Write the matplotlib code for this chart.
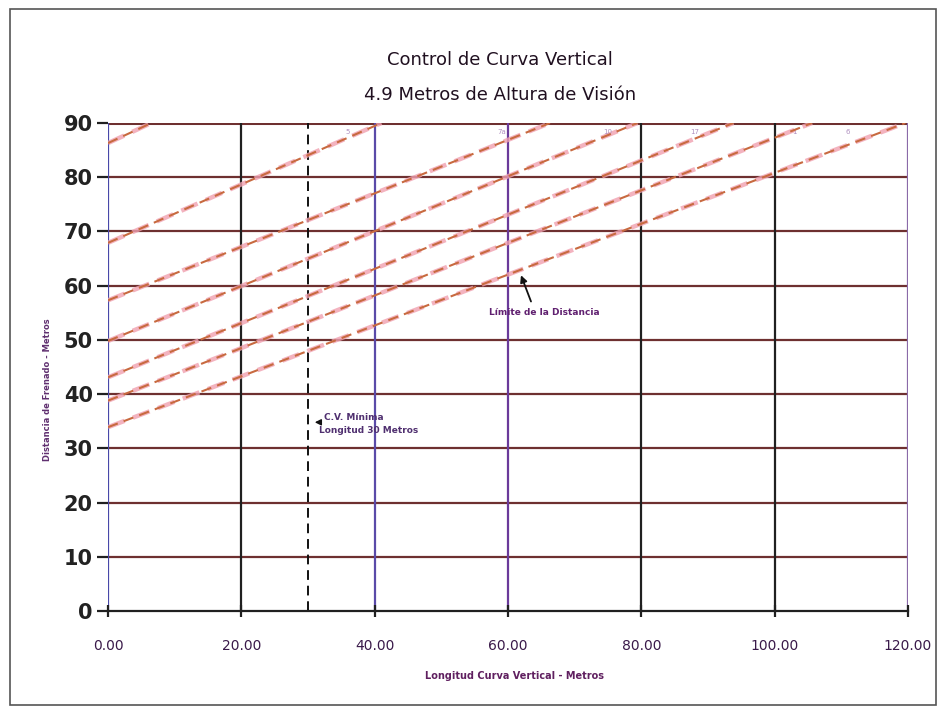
import matplotlib.pyplot as plt
from matplotlib.patches import Rectangle

# Chart data
x_ticks = [0, 20, 40, 60, 80, 100, 120]
x_tick_labels = ["0.00", "20.00", "40.00", "60.00", "80.00", "100.00", "120.00"]
y_ticks = [0, 10, 20, 30, 40, 50, 60, 70, 80, 90]

# each sight-distance line: start point at x=0 and end point at the top edge
line_x0 = [0, 0, 0, 0, 0, 0, 0]
line_y0 = [86.3, 67.9, 57.3, 49.8, 43.1, 38.8, 33.9]
line_x1 = [6.5, 41.0, 66.3, 79.4, 93.8, 105.6, 119.6]
line_y1 = [90, 90, 90, 90, 90, 90, 90]

# tiny faint labels near the top of the lines
small_lbl_x = [36, 59, 75, 88, 103, 111]
small_lbl_txt = ["5", "7a", "10", "17", "1", "6"]

min_length = 30  # minimum vertical curve length

vgrid_colors = {0: "#4848a8", 20: "#202020", 40: "#5a4aa8", 60: "#6a3a9a",
                80: "#202020", 100: "#202020", 120: "#8a6aa8"}

fig = plt.figure(figsize=(9.46, 7.14), dpi=100)
fig.patch.set_facecolor("white")
fig.patches.append(Rectangle((0.011, 0.012), 0.978, 0.976, transform=fig.transFigure,
                             fill=False, edgecolor="#555555", linewidth=1.2))

ax = fig.add_axes([0.1142, 0.1443, 0.8456, 0.6834])
ax.set_xlim(0, 120)
ax.set_ylim(0, 90)

# horizontal grid
for yv in y_ticks[1:]:
    ax.axhline(yv, color="#6e3030", linewidth=2.2 if yv == 90 else 1.6, zorder=1)
# vertical grid
for xv in x_ticks:
    ax.axvline(xv, color=vgrid_colors[xv], linewidth=1.6, zorder=1)

# minimum curve length marker
ax.plot([min_length, min_length], [0, 90], color="#111111", linewidth=1.4,
        linestyle=(0, (5, 3)), zorder=2)

# sight-distance lines
for x0, y0, x1, y1 in zip(line_x0, line_y0, line_x1, line_y1):
    ax.plot([x0, x1], [y0, y1], color="#f0a0b0", linewidth=3.2,
            linestyle=(0, (4, 2)), zorder=3, alpha=0.8, solid_capstyle="butt")
    ax.plot([x0, x1], [y0, y1], color="#c86a40", linewidth=1.5,
            linestyle=(0, (5, 3)), zorder=4)

for xs, ts in zip(small_lbl_x, small_lbl_txt):
    ax.text(xs, 88.4, ts, fontsize=5, color="#b090c0", ha="center", va="center")

# annotations
ax.annotate("", xy=(30.6, 34.8), xytext=(32.3, 34.8),
            arrowprops=dict(arrowstyle="-|>", color="#111111", lw=1.0,
                            mutation_scale=9))
ax.text(36.8, 35.6, "C.V. Mínima", fontsize=6.5, fontweight="bold",
        color="#503070", ha="center", va="center")
ax.text(31.6, 33.2, "Longitud 30 Metros", fontsize=6.5, fontweight="bold",
        color="#503070", ha="left", va="center")

ax.annotate("", xy=(61.8, 62.4), xytext=(63.6, 56.6),
            arrowprops=dict(arrowstyle="-|>", color="#111111", lw=1.3,
                            mutation_scale=10))
ax.text(65.5, 55.1, "Límite de la Distancia", fontsize=6.5, fontweight="bold",
        color="#602070", ha="center", va="center")

# axes styling
for s in ["top", "right", "left"]:
    ax.spines[s].set_visible(False)
ax.spines["bottom"].set_color("#202020")
ax.spines["bottom"].set_linewidth(1.6)

ax.set_xticks(x_ticks)
ax.set_xticklabels(x_tick_labels, fontsize=10, color="#3a1a4a")
ax.set_yticks(y_ticks)
ax.set_yticklabels([str(v) for v in y_ticks], fontsize=15, fontweight="bold",
                   color="#222222")
ax.tick_params(axis="x", length=9, width=1.6, color="#202020", pad=16, direction="inout")
ax.tick_params(axis="y", length=8, width=1.6, color="#202020", pad=3)

fig.text(0.529, 0.916, "Control de Curva Vertical", fontsize=13, color="#201020",
         ha="center", va="center")
fig.text(0.529, 0.867, "4.9 Metros de Altura de Visión", fontsize=13, color="#201020",
         ha="center", va="center")
fig.text(0.050, 0.454, "Distancia de Frenado - Metros", fontsize=6, fontweight="bold",
         color="#603070", rotation=90, ha="center", va="center")
fig.text(0.544, 0.053, "Longitud Curva Vertical - Metros", fontsize=7, fontweight="bold",
         color="#602060", ha="center", va="center")

fig.savefig("out.png", dpi=100)
